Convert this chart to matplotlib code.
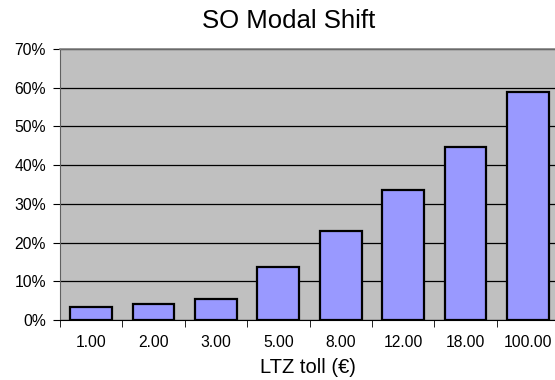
import numpy as np
from matplotlib import pyplot as plt
from matplotlib.ticker import PercentFormatter

plt.rcParams['font.family'] = ['Liberation Sans', 'DejaVu Sans']

tolls = ["1.00", "2.00", "3.00", "5.00", "8.00", "12.00", "18.00", "100.00"]
shift = [3.3, 4.1, 5.3, 13.8, 22.9, 33.6, 44.6, 58.9]

fig = plt.figure(figsize=(5.55, 3.8), dpi=100)
W, H = 555, 380
# plot area in pixels: left 60, right 559 (runs off the edge), top 49, bottom 320
ax = fig.add_axes([60 / W, (H - 320) / H, (559 - 60) / W, (320 - 49) / H])
ax.set_facecolor("#c0c0c0")

x = np.arange(len(tolls))
ax.bar(x, shift, width=0.67, color="#9999ff", edgecolor="black", linewidth=1.6, zorder=3)

ax.set_xlim(-0.5, len(tolls) - 0.5)
ax.set_ylim(0, 70)
ax.set_yticks(np.arange(0, 71, 10))
ax.yaxis.set_major_formatter(PercentFormatter(decimals=0))
ax.grid(axis="y", color="black", linewidth=0.9, zorder=1)

ax.set_xticks(x)
ax.set_xticklabels(tolls)
ax.set_xticks(np.arange(-0.5, len(tolls)), minor=True)
ax.tick_params(axis="x", which="major", length=0, pad=11, labelsize=11.3)
ax.tick_params(axis="x", which="minor", length=5, direction="out", color="black")
ax.tick_params(axis="y", length=5, direction="out", labelsize=11.3, pad=5)

for side in ["top", "right"]:
    ax.spines[side].set_color("#808080")
    ax.spines[side].set_linewidth(1.2)
ax.spines["left"].set_color("#606060")
ax.spines["bottom"].set_color("black")

fig.text(308 / W, 1 - 373 / H, "LTZ toll (€)", fontsize=14.5, ha="center", va="baseline")
fig.text(289 / W, 1 - 28 / H, "SO Modal Shift", fontsize=18.5, ha="center", va="baseline")

plt.savefig("out.png", dpi=100)
